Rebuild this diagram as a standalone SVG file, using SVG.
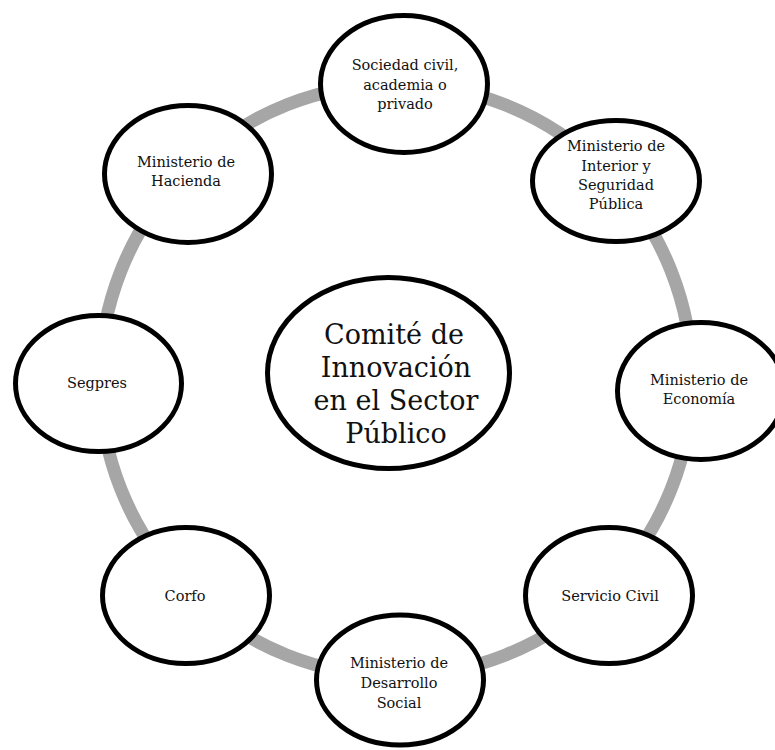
<svg xmlns="http://www.w3.org/2000/svg" width="775" height="750" viewBox="0 0 775 750">
  <style>
    .ring { fill: none; stroke: #a6a6a6; stroke-width: 13; }
    .node { fill: #ffffff; stroke: #000000; stroke-width: 5; }
    .lbl { font-family: "DejaVu Serif", "Liberation Serif", serif; font-size: 14.5px; fill: #111111; text-anchor: middle; }
    .hub { font-family: "DejaVu Serif", "Liberation Serif", serif; font-size: 27px; fill: #111111; text-anchor: middle; }
  </style>
  <rect width="775" height="750" fill="#ffffff"/>

  <!-- connecting ring behind the satellite nodes -->
  <g id="connectors">
    <circle class="ring" cx="396" cy="380" r="296"/>
  </g>

  <g id="hub">
    <ellipse class="node" cx="388.5" cy="373" rx="121" ry="95.5"/>
    <text class="hub" x="394" y="344">Comité de</text>
    <text class="hub" x="396" y="377">Innovación</text>
    <text class="hub" x="396" y="410">en el Sector</text>
    <text class="hub" x="396" y="443">Público</text>
  </g>

  <g id="sociedad">
    <ellipse class="node" cx="404" cy="84" rx="83.5" ry="68.5"/>
    <text class="lbl" x="405" y="70">Sociedad civil,</text>
    <text class="lbl" x="405" y="89.5">academia o</text>
    <text class="lbl" x="405" y="109">privado</text>
  </g>

  <g id="interior">
    <ellipse class="node" cx="616" cy="181" rx="83.5" ry="60.5"/>
    <text class="lbl" x="616" y="151">Ministerio de</text>
    <text class="lbl" x="616" y="170.5">Interior y</text>
    <text class="lbl" x="616" y="190">Seguridad</text>
    <text class="lbl" x="616" y="209">Pública</text>
  </g>

  <g id="economia">
    <ellipse class="node" cx="701" cy="391" rx="83.5" ry="68.5"/>
    <text class="lbl" x="699" y="385">Ministerio de</text>
    <text class="lbl" x="699" y="404">Economía</text>
  </g>

  <g id="servicio-civil">
    <ellipse class="node" cx="609" cy="595.5" rx="83.5" ry="68"/>
    <text class="lbl" x="610" y="601">Servicio Civil</text>
  </g>

  <g id="desarrollo-social">
    <ellipse class="node" cx="400" cy="680" rx="83.5" ry="65"/>
    <text class="lbl" x="399" y="668">Ministerio de</text>
    <text class="lbl" x="399" y="688">Desarrollo</text>
    <text class="lbl" x="399" y="708">Social</text>
  </g>

  <g id="corfo">
    <ellipse class="node" cx="186" cy="595.5" rx="83.5" ry="68"/>
    <text class="lbl" x="185" y="601">Corfo</text>
  </g>

  <g id="segpres">
    <ellipse class="node" cx="98.5" cy="383.5" rx="83" ry="68"/>
    <text class="lbl" x="97" y="388">Segpres</text>
  </g>

  <g id="hacienda">
    <ellipse class="node" cx="188" cy="174" rx="83.5" ry="68.5"/>
    <text class="lbl" x="186" y="167">Ministerio de</text>
    <text class="lbl" x="186" y="186">Hacienda</text>
  </g>
</svg>
